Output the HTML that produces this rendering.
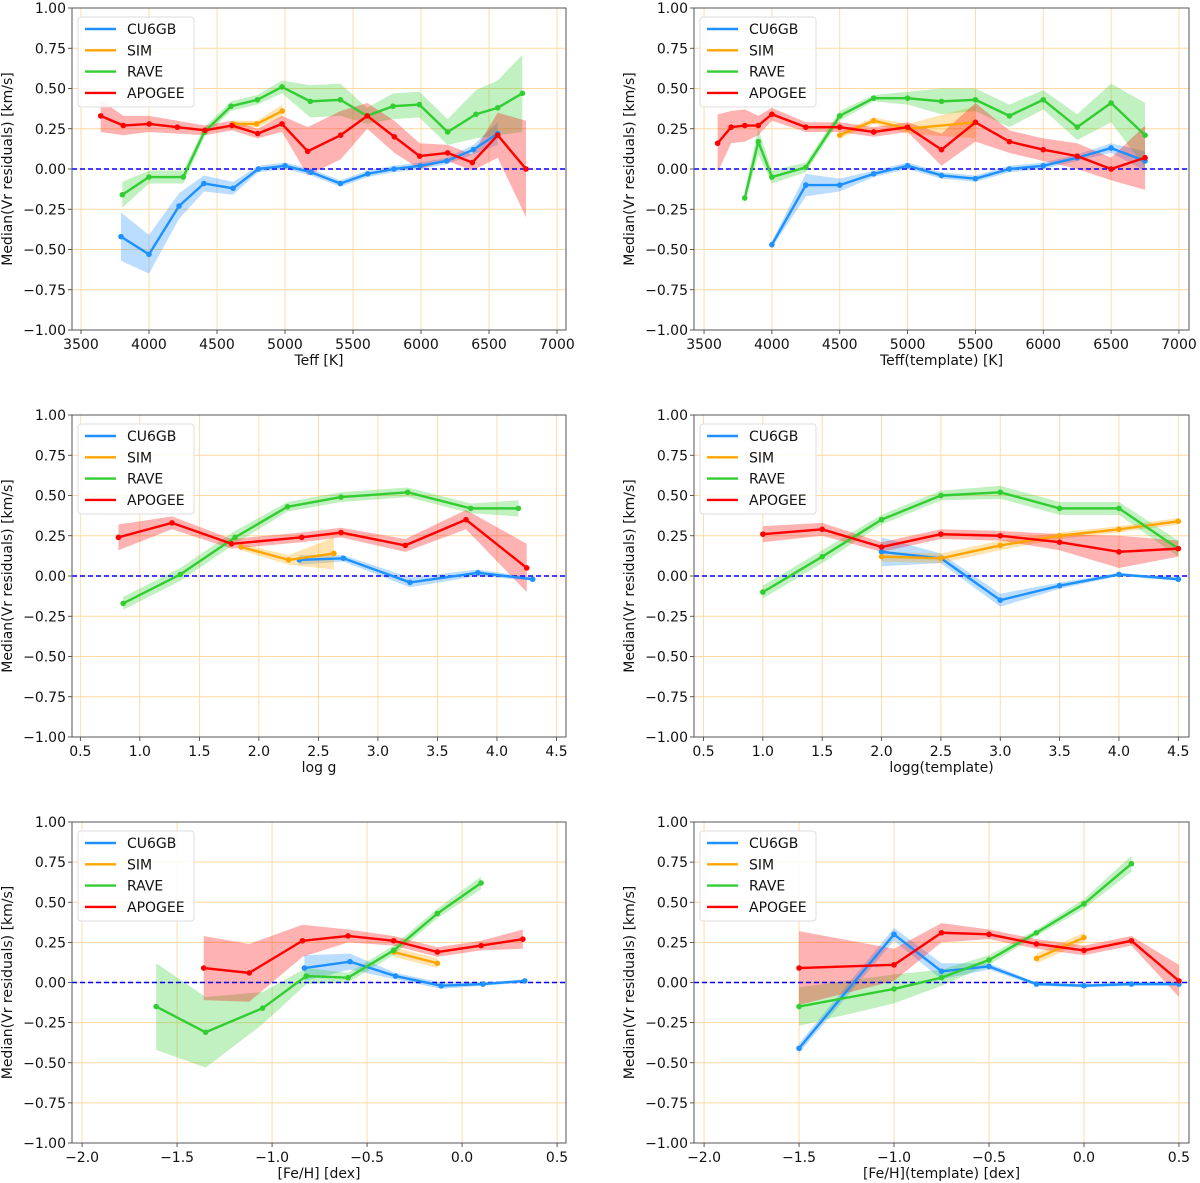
<!DOCTYPE html>
<html><head><meta charset="utf-8"><style>
html,body{margin:0;padding:0;background:#fff}
svg{display:block;font-family:"DejaVu Sans","Liberation Sans",sans-serif}
</style></head><body>
<svg id="chart" width="1200" height="1183" viewBox="0 0 1200 1183" xmlns="http://www.w3.org/2000/svg"></svg>
<script>
// ---------- Data ----------
const seriesNames = ["CU6GB","SIM","RAVE","APOGEE"];
const yTicks = [-1,-0.75,-0.5,-0.25,0,0.25,0.5,0.75,1];

// Panel 1: Teff
const p1_cu_x=[3794,4000,4221,4404,4618,4804,5000,5191,5407,5608,5801,5993,6189,6385,6564];
const p1_cu_y=[-0.42,-0.53,-0.23,-0.09,-0.12,0,0.02,-0.02,-0.09,-0.03,0,0.02,0.05,0.12,0.22];
const p1_cu_e=[0.15,0.12,0.08,0.05,0.04,0.02,0.02,0.02,0.02,0.02,0.02,0.02,0.02,0.03,0.07];
const p1_sim_x=[4618,4792,4980];
const p1_sim_y=[0.28,0.28,0.36];
const p1_sim_e=[0.02,0.02,0.04];
const p1_rave_x=[3804,4000,4252,4407,4603,4797,4978,5186,5407,5603,5794,5988,6196,6404,6564,6745];
const p1_rave_y=[-0.16,-0.05,-0.05,0.23,0.39,0.43,0.51,0.42,0.43,0.33,0.39,0.40,0.23,0.34,0.38,0.47];
const p1_rave_e=[0.08,0.04,0.04,0.03,0.03,0.03,0.04,0.1,0.1,0.05,0.08,0.08,0.08,0.15,0.17,0.24];
const p1_apo_x=[3645,3811,4002,4208,4412,4610,4799,4978,5167,5409,5605,5804,5990,6196,6377,6564,6772];
const p1_apo_y=[0.33,0.27,0.28,0.26,0.24,0.27,0.22,0.28,0.11,0.21,0.33,0.20,0.08,0.10,0.04,0.21,0.0];
const p1_apo_e=[0.1,0.06,0.05,0.04,0.03,0.03,0.03,0.05,0.15,0.15,0.08,0.1,0.08,0.05,0.05,0.14,0.3];

// Panel 2: Teff(template)
const p2_cu_x=[4000,4250,4500,4750,5000,5250,5500,5750,6000,6250,6500,6750];
const p2_cu_y=[-0.47,-0.10,-0.10,-0.03,0.02,-0.04,-0.06,0,0.02,0.07,0.13,0.05];
const p2_cu_e=[0.02,0.07,0.04,0.02,0.02,0.02,0.02,0.02,0.02,0.02,0.03,0.06];
const p2_sim_x=[4500,4750,5000,5500];
const p2_sim_y=[0.21,0.30,0.25,0.29];
const p2_sim_e=[0.02,0.02,0.03,0.1];
const p2_rave_x=[3800,3900,4000,4250,4500,4750,5000,5250,5500,5750,6000,6250,6500,6750];
const p2_rave_y=[-0.18,0.17,-0.05,0.01,0.33,0.44,0.44,0.42,0.43,0.33,0.43,0.26,0.41,0.21];
const p2_rave_e=[0.04,0.08,0.04,0.03,0.03,0.02,0.04,0.08,0.07,0.07,0.06,0.08,0.12,0.2];
const p2_apo_x=[3600,3700,3800,3900,4000,4250,4500,4750,5000,5250,5500,5750,6000,6250,6500,6750];
const p2_apo_y=[0.16,0.26,0.27,0.27,0.34,0.26,0.26,0.23,0.26,0.12,0.29,0.17,0.12,0.08,0.0,0.07];
const p2_apo_e=[0.18,0.1,0.1,0.06,0.04,0.03,0.03,0.03,0.03,0.1,0.12,0.07,0.07,0.08,0.07,0.2];

// Panel 3: log g
const p3_cu_x=[2.34,2.71,3.27,3.84,4.30];
const p3_cu_y=[0.10,0.11,-0.04,0.02,-0.02];
const p3_cu_e=[0.03,0.02,0.03,0.02,0.01];
const p3_sim_x=[1.85,2.25,2.63];
const p3_sim_y=[0.18,0.10,0.14];
const p3_sim_e=[0.02,0.03,0.1];
const p3_rave_x=[0.86,1.34,1.80,2.24,2.69,3.25,3.78,4.18];
const p3_rave_y=[-0.17,0.01,0.24,0.43,0.49,0.52,0.42,0.42];
const p3_rave_e=[0.04,0.04,0.04,0.03,0.03,0.03,0.03,0.05];
const p3_apo_x=[0.82,1.27,1.77,2.36,2.69,3.23,3.74,4.25];
const p3_apo_y=[0.24,0.33,0.20,0.24,0.27,0.19,0.35,0.05];
const p3_apo_e=[0.08,0.04,0.03,0.03,0.03,0.04,0.06,0.15];

// Panel 4: logg(template)
const p4_cu_x=[2.0,2.5,3.0,3.5,4.0,4.5];
const p4_cu_y=[0.15,0.11,-0.15,-0.06,0.01,-0.02];
const p4_cu_e=[0.09,0.03,0.04,0.02,0.01,0.01];
const p4_sim_x=[2.0,2.5,3.0,3.5,4.0,4.5];
const p4_sim_y=[0.12,0.11,0.19,0.25,0.29,0.34];
const p4_sim_e=[0.03,0.03,0.03,0.02,0.02,0.02];
const p4_rave_x=[1.0,1.5,2.0,2.5,3.0,3.5,4.0,4.5];
const p4_rave_y=[-0.10,0.12,0.35,0.50,0.52,0.42,0.42,0.17];
const p4_rave_e=[0.04,0.04,0.03,0.03,0.04,0.04,0.04,0.05];
const p4_apo_x=[1.0,1.5,2.0,2.5,3.0,3.5,4.0,4.5];
const p4_apo_y=[0.26,0.29,0.18,0.26,0.25,0.21,0.15,0.17];
const p4_apo_e=[0.05,0.04,0.03,0.03,0.03,0.05,0.1,0.05];

// Panel 5: [Fe/H]
const p5_cu_x=[-0.83,-0.59,-0.35,-0.11,0.11,0.33];
const p5_cu_y=[0.09,0.13,0.04,-0.02,-0.01,0.01];
const p5_cu_e=[0.08,0.05,0.02,0.02,0.01,0.01];
const p5_sim_x=[-0.36,-0.13];
const p5_sim_y=[0.19,0.12];
const p5_sim_e=[0.03,0.03];
const p5_rave_x=[-1.61,-1.35,-1.05,-0.82,-0.60,-0.36,-0.13,0.10];
const p5_rave_y=[-0.15,-0.31,-0.16,0.04,0.03,0.20,0.43,0.62];
const p5_rave_e=[0.27,0.22,0.1,0.05,0.03,0.03,0.03,0.04];
const p5_apo_x=[-1.36,-1.12,-0.84,-0.60,-0.36,-0.13,0.10,0.32];
const p5_apo_y=[0.09,0.06,0.26,0.29,0.26,0.19,0.23,0.27];
const p5_apo_e=[0.2,0.18,0.1,0.04,0.03,0.03,0.03,0.06];

// Panel 6: [Fe/H](template)
const p6_cu_x=[-1.5,-1.0,-0.75,-0.5,-0.25,0,0.25,0.5];
const p6_cu_y=[-0.41,0.30,0.07,0.10,-0.01,-0.02,-0.01,-0.01];
const p6_cu_e=[0.03,0.04,0.05,0.02,0.01,0.01,0.01,0.01];
const p6_sim_x=[-0.25,0];
const p6_sim_y=[0.15,0.28];
const p6_sim_e=[0.03,0.03];
const p6_rave_x=[-1.5,-1.0,-0.75,-0.5,-0.25,0,0.25];
const p6_rave_y=[-0.15,-0.04,0.03,0.14,0.31,0.49,0.74];
const p6_rave_e=[0.12,0.09,0.05,0.03,0.02,0.03,0.05];
const p6_apo_x=[-1.5,-1.0,-0.75,-0.5,-0.25,0,0.25,0.5];
const p6_apo_y=[0.09,0.11,0.31,0.30,0.24,0.20,0.26,0.01];
const p6_apo_e=[0.23,0.1,0.06,0.03,0.03,0.03,0.03,0.1];

const tickTeff=[3500,4000,4500,5000,5500,6000,6500,7000];
const tickLogg=[0.5,1.0,1.5,2.0,2.5,3.0,3.5,4.0,4.5];
const tickFeh=[-2.0,-1.5,-1.0,-0.5,0.0,0.5];

// ---------- Rendering ----------
const NS="http://www.w3.org/2000/svg";
const svg=document.getElementById("chart");
const colors=["#1e90ff","#ffa500","#32cd32","#ff0000"];
function mk(tag,attrs,parent){const e=document.createElementNS(NS,tag);for(const k in attrs)e.setAttribute(k,attrs[k]);(parent||svg).appendChild(e);return e;}
function fmtMinus(s){return s.replace("-","\u2212");}

const panels=[
 {id:"teff",L:72,R:566,T:8,B:330,xmin:3434,xmax:7066,ticks:tickTeff,dec:0,label:"Teff [K]",
  data:[[p1_cu_x,p1_cu_y,p1_cu_e],[p1_sim_x,p1_sim_y,p1_sim_e],[p1_rave_x,p1_rave_y,p1_rave_e],[p1_apo_x,p1_apo_y,p1_apo_e]]},
 {id:"teff-template",L:694,R:1189,T:8,B:330,xmin:3426,xmax:7074,ticks:tickTeff,dec:0,label:"Teff(template) [K]",
  data:[[p2_cu_x,p2_cu_y,p2_cu_e],[p2_sim_x,p2_sim_y,p2_sim_e],[p2_rave_x,p2_rave_y,p2_rave_e],[p2_apo_x,p2_apo_y,p2_apo_e]]},
 {id:"logg",L:72,R:566,T:415,B:737,xmin:0.43,xmax:4.58,ticks:tickLogg,dec:1,label:"log g",
  data:[[p3_cu_x,p3_cu_y,p3_cu_e],[p3_sim_x,p3_sim_y,p3_sim_e],[p3_rave_x,p3_rave_y,p3_rave_e],[p3_apo_x,p3_apo_y,p3_apo_e]]},
 {id:"logg-template",L:694,R:1189,T:415,B:737,xmin:0.42,xmax:4.59,ticks:tickLogg,dec:1,label:"logg(template)",
  data:[[p4_cu_x,p4_cu_y,p4_cu_e],[p4_sim_x,p4_sim_y,p4_sim_e],[p4_rave_x,p4_rave_y,p4_rave_e],[p4_apo_x,p4_apo_y,p4_apo_e]]},
 {id:"feh",L:72,R:566,T:822,B:1143,xmin:-2.053,xmax:0.547,ticks:tickFeh,dec:1,label:"[Fe/H] [dex]",
  data:[[p5_cu_x,p5_cu_y,p5_cu_e],[p5_sim_x,p5_sim_y,p5_sim_e],[p5_rave_x,p5_rave_y,p5_rave_e],[p5_apo_x,p5_apo_y,p5_apo_e]]},
 {id:"feh-template",L:694,R:1189,T:822,B:1143,xmin:-2.053,xmax:0.553,ticks:tickFeh,dec:1,label:"[Fe/H](template) [dex]",
  data:[[p6_cu_x,p6_cu_y,p6_cu_e],[p6_sim_x,p6_sim_y,p6_sim_e],[p6_rave_x,p6_rave_y,p6_rave_e],[p6_apo_x,p6_apo_y,p6_apo_e]]}
];

panels.forEach(p=>{
 const g=mk("g",{});
 
 
 const sx=v=>p.L+(v-p.xmin)/(p.xmax-p.xmin)*(p.R-p.L);
 const sy=v=>p.B-(v+1)/2*(p.B-p.T);
 p.ticks.forEach(t=>{const x=sx(t);
  const l=mk("line",{x1:x,x2:x,y1:p.T,y2:p.B,stroke:"#ffd9a0","stroke-width":0.9},g);
  
  
  const tk=mk("line",{x1:x,x2:x,y1:p.B,y2:p.B+4,stroke:"#333","stroke-width":0.8},g);
  
  
  const tx=mk("text",{x:x,y:p.B+19,"text-anchor":"middle","font-size":14,fill:"#111"},g);
  tx.textContent=fmtMinus(t.toFixed(p.dec));
  
  
 });
 yTicks.forEach(t=>{const y=sy(t);
  const l=mk("line",{x1:p.L,x2:p.R,y1:y,y2:y,stroke:"#ffd9a0","stroke-width":0.9},g);
  
  
  const tk=mk("line",{x1:p.L-4,x2:p.L,y1:y,y2:y,stroke:"#333","stroke-width":0.8},g);
  
  
  const tx=mk("text",{x:p.L-6,y:y+5,"text-anchor":"end","font-size":14,fill:"#111"},g);
  tx.textContent=fmtMinus(t.toFixed(2));
  
  
 });
 p.data.forEach((d,i)=>{
  const [xs,ys,es]=d;
  let pts=xs.map((x,k)=>sx(x)+","+sy(ys[k]+es[k]));
  for(let k=xs.length-1;k>=0;k--)pts.push(sx(xs[k])+","+sy(ys[k]-es[k]));
  const b=mk("polygon",{points:pts.join(" "),fill:colors[i],"fill-opacity":0.3,stroke:"none"},g);
  
  
 });
 const z=mk("line",{x1:p.L,x2:p.R,y1:sy(0),y2:sy(0),stroke:"#0000ff","stroke-width":1.5,"stroke-dasharray":"5,3"},g);
 
 
 p.data.forEach((d,i)=>{
  const [xs,ys]=d;
  const l=mk("polyline",{points:xs.map((x,k)=>sx(x)+","+sy(ys[k])).join(" "),fill:"none",stroke:colors[i],"stroke-width":2.4,"stroke-linejoin":"round"},g);
  
  
  xs.forEach((x,k)=>{
   const c=mk("circle",{cx:sx(x),cy:sy(ys[k]),r:2.8,fill:colors[i]},g);
   
   
  });
 });
 const f=mk("rect",{x:p.L,y:p.T,width:p.R-p.L,height:p.B-p.T,fill:"none",stroke:"#555","stroke-width":1},g);
 
 
 const xl=mk("text",{x:(p.L+p.R)/2,y:p.B+35,"text-anchor":"middle","font-size":14,fill:"#111"},g);
 xl.textContent=p.label;
 
 
 const yx=p.L-60, ym=(p.T+p.B)/2;
 const yl=mk("text",{x:yx,y:ym,"text-anchor":"middle","font-size":14,fill:"#111",transform:`rotate(-90 ${yx} ${ym})`},g);
 yl.textContent="Median(Vr residuals) [km/s]";
 
 
 const lg=mk("g",{},g);
 
 
 const lx=p.L+6, ly=p.T+9;
 mk("rect",{x:lx,y:ly,width:116,height:90,rx:3,fill:"#fff","fill-opacity":0.85,stroke:"#ddd"},lg);
 seriesNames.forEach((n,i)=>{
  const yy=ly+12+i*21.3;
  const e=mk("g",{},lg);
  
  
  mk("line",{x1:lx+7,x2:lx+38,y1:yy,y2:yy,stroke:colors[i],"stroke-width":2.4},e);
  const t=mk("text",{x:lx+49,y:yy+5,"font-size":14,fill:"#111"},e);
  t.textContent=n;
 });
});
</script>
</body></html>
